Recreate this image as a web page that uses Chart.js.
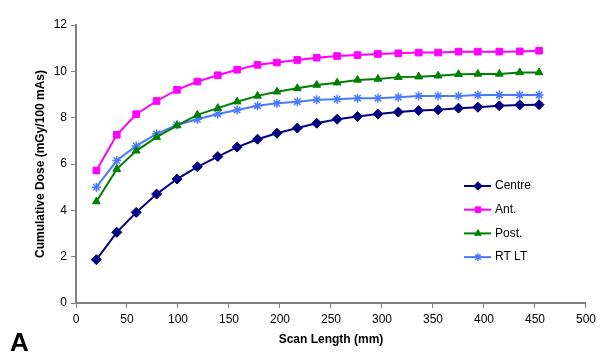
<!DOCTYPE html>
<html>
<head>
<meta charset="utf-8">
<script src="https://cdn.jsdelivr.net/npm/chart.js@4/dist/chart.umd.min.js"></script>
<style>
  html, body { margin: 0; padding: 0; background: #fff; }
  #box { width: 600px; height: 353px; }
</style>
</head>
<body>
<div id="box"><canvas id="doseChart"></canvas></div>
<script>
// scan length (mm)
const scanLength = [20, 40, 59, 79, 99, 119, 139, 158, 178, 197, 217, 236, 256, 276, 296, 316, 336, 355, 375, 394, 415, 435, 454];

// cumulative dose (mGy/100 mAs)
const centre = [1.87, 3.05, 3.91, 4.70, 5.35, 5.88, 6.32, 6.73, 7.07, 7.33, 7.55, 7.76, 7.93, 8.05, 8.16, 8.24, 8.31, 8.34, 8.41, 8.45, 8.51, 8.55, 8.56];
const ant    = [5.72, 7.26, 8.15, 8.72, 9.20, 9.56, 9.83, 10.07, 10.28, 10.38, 10.49, 10.59, 10.66, 10.70, 10.75, 10.78, 10.81, 10.81, 10.85, 10.85, 10.85, 10.86, 10.89];
const post   = [4.38, 5.78, 6.57, 7.16, 7.66, 8.12, 8.41, 8.69, 8.94, 9.12, 9.27, 9.41, 9.51, 9.63, 9.67, 9.75, 9.77, 9.81, 9.87, 9.89, 9.89, 9.95, 9.95];
const rtlt   = [5.00, 6.15, 6.78, 7.30, 7.69, 7.93, 8.16, 8.33, 8.51, 8.62, 8.69, 8.77, 8.80, 8.84, 8.84, 8.88, 8.94, 8.94, 8.94, 8.98, 8.98, 8.98, 8.98];

const xTicks = [0, 50, 100, 150, 200, 250, 300, 350, 400, 450, 500];
const yTicks = [0, 2, 4, 6, 8, 10, 12];

const FONT = "'Liberation Sans', Arial, sans-serif";

function pts(ys) {
  return scanLength.map((x, i) => ({ x: x, y: ys[i] }));
}

function series(label, ys, color, style, radius) {
  return {
    label: label,
    data: pts(ys),
    borderColor: color,
    backgroundColor: color,
    borderWidth: 2,
    pointStyle: style,
    pointRadius: radius,
    pointBorderWidth: style === 'star' ? 1.5 : 1,
    pointBorderColor: color,
    pointBackgroundColor: color,
    tension: 0
  };
}

// legend drawn inside the plot, lines with markers
const innerLegend = {
  id: 'innerLegend',
  afterDraw(chart) {
    const c = chart.ctx, a = chart.chartArea;
    const x0 = a.right - 122, y0 = a.top + 161, gap = 23.7;
    c.save();
    chart.data.datasets.forEach((ds, i) => {
      const y = y0 + i * gap;
      c.strokeStyle = ds.borderColor;
      c.lineWidth = 2;
      c.beginPath();
      c.moveTo(x0, y);
      c.lineTo(x0 + 27, y);
      c.stroke();
      c.fillStyle = ds.borderColor;
      c.lineWidth = ds.pointBorderWidth;
      Chart.helpers.drawPoint(c, { pointStyle: ds.pointStyle, radius: ds.pointRadius * 0.85, borderWidth: ds.pointBorderWidth }, x0 + 14, y);
      c.fillStyle = '#000';
      c.font = '12px ' + FONT;
      c.textBaseline = 'middle';
      c.fillText(ds.label, x0 + 31, y);
    });
    // panel letter
    c.font = 'bold 26px ' + FONT;
    c.textBaseline = 'alphabetic';
    c.fillText('A', 10, 351);
    c.restore();
  }
};

const ctx = document.getElementById('doseChart').getContext('2d');
const myChart = new Chart(ctx, {
  type: 'line',
  data: {
    datasets: [
      series('Centre', centre, '#000080', 'rectRot', 5),
      series('Ant.', ant, '#ff00ff', 'rect', 4.7),
      series('Post.', post, '#008000', 'triangle', 4.5),
      series('RT LT', rtlt, '#4a7bff', 'star', 4.5)
    ]
  },
  options: {
    responsive: true,
    maintainAspectRatio: false,
    animation: false,
    layout: { padding: { top: 25, right: 11, left: 0, bottom: 0 } },
    plugins: {
      legend: { display: false },
      tooltip: { enabled: false }
    },
    scales: {
      x: {
        type: 'linear',
        min: 0,
        max: 500,
        afterBuildTicks(scale) { scale.ticks = xTicks.map(v => ({ value: v })); },
        afterFit(scale) { scale.height = 50; },
        grid: { drawOnChartArea: false, drawTicks: true, tickLength: 5, color: '#808080', lineWidth: 1 },
        border: { color: '#808080', width: 2 },
        ticks: { color: '#000', padding: 4, maxRotation: 0, font: { family: FONT, size: 12 } },
        title: { display: true, text: 'Scan Length (mm)', color: '#000', padding: { top: 0, bottom: 6 }, font: { family: FONT, size: 12, weight: 'bold' } }
      },
      y: {
        min: 0,
        max: 12,
        afterBuildTicks(scale) { scale.ticks = yTicks.map(v => ({ value: v })); },
        afterFit(scale) { scale.width = 76; },
        grid: { drawOnChartArea: false, drawTicks: true, tickLength: 5, color: '#808080', lineWidth: 1 },
        border: { color: '#808080', width: 2 },
        ticks: { color: '#000', padding: 4, font: { family: FONT, size: 12 } },
        title: { display: true, text: 'Cumulative Dose (mGy/100 mAs)', color: '#000', padding: { top: 33, bottom: 0 }, font: { family: FONT, size: 12, weight: 'bold' } }
      }
    }
  },
  plugins: [innerLegend]
});
</script>
</body>
</html>
